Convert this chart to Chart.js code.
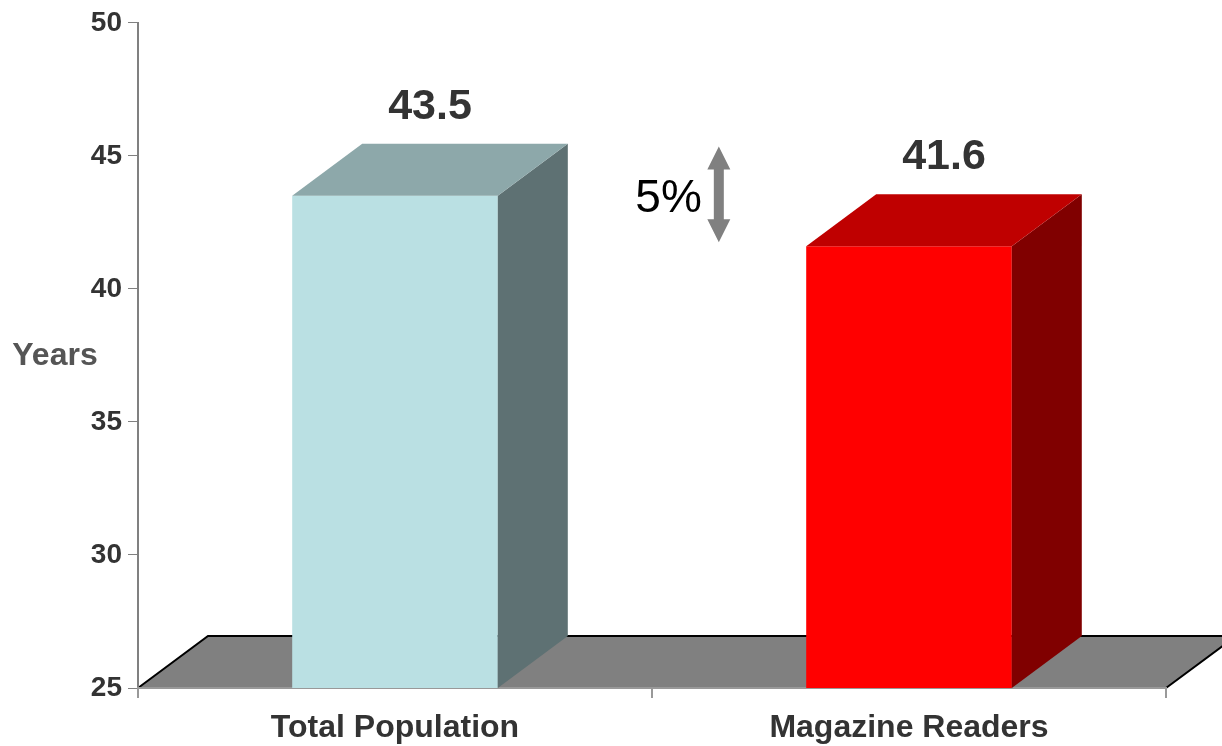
<!DOCTYPE html>
<html>
<head>
<meta charset="utf-8">
<script src="https://cdn.jsdelivr.net/npm/chart.js@4/dist/chart.umd.min.js"></script>
<style>
  html, body { margin: 0; padding: 0; background: #ffffff; }
  #wrap { width: 1222px; height: 746px; }
</style>
</head>
<body>
<div id="wrap"><canvas id="c" width="1222" height="746"></canvas></div>
<script>
// ---- data ----
const categories = ['Total Population', 'Magazine Readers'];
const ages = [43.5, 41.6];
const valueLabels = ['43.5', '41.6'];
const yTicksMin = 25;
const yTicksMax = 50;
const yTickStep = 5;
const axisTitle = 'Years';
const diffLabel = '5%';
const diffFrom = 45.35;   // arrow top (y value)
const diffTo = 41.75;     // arrow bottom (y value)
const diffX = 0.63;       // arrow position on category axis

// ---- styles ----
const FONT = '"Liberation Sans", Arial, Helvetica, sans-serif';
const frontColors = ['#BAE0E3', '#FF0000'];
const topColors = ['#8DA8AA', '#BF0000'];
const sideColors = ['#5E7173', '#800000'];
const DX = 70, DY = 52;

const threeD = {
  id: 'threeD',
  beforeDraw(chart) {
    const ctx = chart.ctx;
    const a = chart.chartArea;
    const yb = chart.scales.y.getPixelForValue(yTicksMin);
    ctx.save();
    ctx.beginPath();
    ctx.moveTo(a.left, yb);
    ctx.lineTo(a.right, yb);
    ctx.lineTo(a.right + DX, yb - DY);
    ctx.lineTo(a.left + DX, yb - DY);
    ctx.closePath();
    ctx.fillStyle = '#808080';
    ctx.fill();
    ctx.strokeStyle = '#000000';
    ctx.lineWidth = 2;
    ctx.beginPath();
    ctx.moveTo(a.left, yb);
    ctx.lineTo(a.left + DX, yb - DY);
    ctx.lineTo(a.right + DX, yb - DY);
    ctx.lineTo(a.right, yb);
    ctx.stroke();
    ctx.restore();
  },
  afterDatasetsDraw(chart) {
    const ctx = chart.ctx;
    const meta = chart.getDatasetMeta(0);
    const b = chart.scales.y.getPixelForValue(yTicksMin);
    ctx.save();
    meta.data.forEach((bar, i) => {
      const p = bar.getProps(['x', 'y', 'width'], true);
      const l = p.x - p.width / 2, r = p.x + p.width / 2, t = p.y;
      // side
      ctx.beginPath();
      ctx.moveTo(r, b);
      ctx.lineTo(r + DX, b - DY);
      ctx.lineTo(r + DX, t - DY);
      ctx.lineTo(r, t);
      ctx.closePath();
      ctx.fillStyle = sideColors[i];
      ctx.fill();
      // top
      ctx.beginPath();
      ctx.moveTo(l, t);
      ctx.lineTo(r, t);
      ctx.lineTo(r + DX, t - DY);
      ctx.lineTo(l + DX, t - DY);
      ctx.closePath();
      ctx.fillStyle = topColors[i];
      ctx.fill();
      // value label
      ctx.fillStyle = '#333333';
      ctx.font = 'bold 43px ' + FONT;
      ctx.textAlign = 'center';
      ctx.textBaseline = 'alphabetic';
      ctx.fillText(valueLabels[i], p.x + DX / 2, t - DY - 25);
    });

    // axis title (horizontal)
    ctx.fillStyle = '#555555';
    ctx.font = 'bold 32px ' + FONT;
    ctx.textAlign = 'center';
    ctx.textBaseline = 'alphabetic';
    ctx.fillText(axisTitle, 55, 365);

    // difference arrow
    const ys = chart.scales.y, xs = chart.scales.x;
    const ax = xs.getPixelForValue(diffX);
    const y1 = ys.getPixelForValue(diffFrom);
    const y2 = ys.getPixelForValue(diffTo);
    const hw = 11.5, hh = 23, sw = 5;
    ctx.fillStyle = '#808080';
    ctx.beginPath();
    ctx.moveTo(ax, y1);
    ctx.lineTo(ax + hw, y1 + hh);
    ctx.lineTo(ax + sw, y1 + hh);
    ctx.lineTo(ax + sw, y2 - hh);
    ctx.lineTo(ax + hw, y2 - hh);
    ctx.lineTo(ax, y2);
    ctx.lineTo(ax - hw, y2 - hh);
    ctx.lineTo(ax - sw, y2 - hh);
    ctx.lineTo(ax - sw, y1 + hh);
    ctx.lineTo(ax - hw, y1 + hh);
    ctx.closePath();
    ctx.fill();
    ctx.fillStyle = '#000000';
    ctx.font = '46px ' + FONT;
    ctx.textAlign = 'right';
    ctx.fillText(diffLabel, ax - 17, (y1 + y2) / 2 + 18);
    ctx.restore();
  }
};

new Chart(document.getElementById('c'), {
  type: 'bar',
  data: {
    labels: categories,
    datasets: [{
      data: ages,
      backgroundColor: frontColors,
      borderWidth: 0,
      barPercentage: 0.4,
      categoryPercentage: 1.0
    }]
  },
  options: {
    responsive: false,
    animation: false,
    layout: { padding: { top: 20, right: 56, left: 0, bottom: 0 } },
    plugins: { legend: { display: false }, tooltip: { enabled: false } },
    scales: {
      y: {
        min: yTicksMin,
        max: yTicksMax,
        ticks: { stepSize: yTickStep, color: '#333333', font: { family: FONT, size: 28, weight: 'bold' }, padding: 6 },
        grid: { drawOnChartArea: false, drawTicks: true, tickLength: 10, color: '#808080', lineWidth: 1 },
        border: { display: true, color: '#808080', width: 2 },
        afterFit(s) { s.width = 138; }
      },
      x: {
        ticks: { color: '#333333', font: { family: FONT, size: 32, weight: 'bold' }, padding: 11, maxRotation: 0 },
        grid: { offset: true, drawOnChartArea: false, drawTicks: true, tickLength: 10, color: '#999999', lineWidth: 2 },
        border: { display: true, color: '#999999', width: 2 },
        afterFit(s) { s.height = 58; }
      }
    }
  },
  plugins: [threeD]
});
</script>
</body>
</html>
